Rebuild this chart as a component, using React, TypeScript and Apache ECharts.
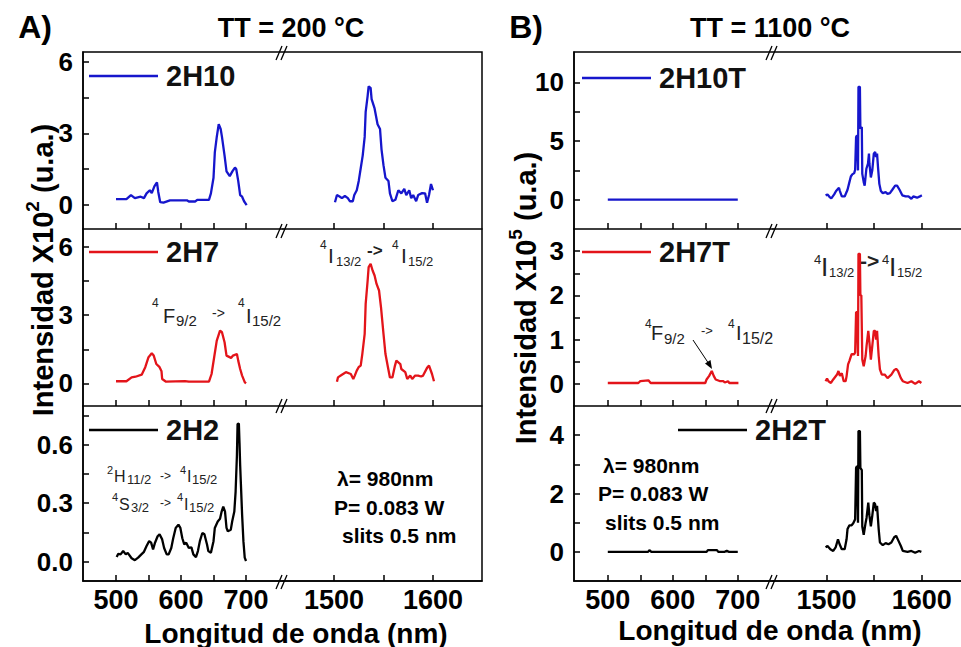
import React, { useEffect, useRef } from "react";
import * as echarts from "echarts";

type Pt = [number, number];

// ---------------- data: [wavelength (nm), intensity] ----------------
// Column A (TT = 200 °C), intensity x10^2
const A_2H10_VIS: Pt[] = [
  [500, 0.25], [516, 0.25], [523, 0.42], [529, 0.29], [538, 0.35], [543, 0.29], [547, 0.49], [552, 0.62],
  [555, 0.5], [559, 0.78], [563, 0.95], [565, 0.55], [568, 0.12], [573, 0.1], [583, 0.2], [609, 0.2],
  [612, 0.15], [622, 0.15], [625, 0.22], [643, 0.22], [646, 0.49], [650, 1.14], [652, 2.2], [655, 2.85],
  [658, 3.38], [661, 3.18], [663, 2.85], [667, 2.07], [670, 1.41], [675, 1.21], [679, 1.41], [683, 1.57],
  [685, 1.5], [688, 1.01], [691, 0.42], [694, 0.35], [697, 0.16], [701, 0],
];
const A_2H10_IR: Pt[] = [
  [1501, 0.12], [1503, 0.42], [1506, 0.35], [1508, 0.29], [1511, 0.38], [1514, 0.29], [1516, 0.16],
  [1519, 0.16], [1520.5, 0.42], [1523, 0.62], [1525, 1.01], [1527, 1.54], [1529, 2.07], [1531, 2.85],
  [1532, 3.9], [1534, 4.57], [1535, 4.96], [1537, 4.9], [1538, 4.43], [1541, 4.04], [1544, 3.38],
  [1546.5, 3.18], [1548, 2.33], [1550, 1.67], [1552, 1.14], [1555, 1.01], [1556.5, 0.49], [1559, 0.16],
  [1562, 0.22], [1565, 0.62], [1568, 0.49], [1571, 0.68], [1573, 0.42], [1576, 0.62], [1578, 0.29],
  [1580, 0.42], [1583, 0.16], [1585, 0.42], [1589, 0.5], [1592, 0.49], [1594, 0.1], [1596, 0.42],
  [1598, 0.88], [1600, 0.62],
];
const A_2H7_VIS: Pt[] = [
  [500, 0.09], [516, 0.09], [524, 0.26], [530, 0.29], [539.5, 0.38], [545, 0.71], [550, 1.15], [555, 1.32],
  [558, 1.22], [562, 0.85], [567, 0.71], [570, 0.53], [571, 0.19], [577, 0.07], [606, 0.1], [612, 0.07],
  [643, 0.07], [647, 0.41], [651, 1.15], [655, 1.88], [660, 2.32], [663, 2.25], [667, 1.81], [670, 1.22],
  [677, 1.12], [680, 1.22], [686, 1.29], [688, 1.0], [691, 0.63], [694, 0.34], [698, 0.05], [700, 0],
];
const A_2H7_IR: Pt[] = [
  [1503, 0.07], [1504, 0.26], [1508, 0.38], [1512, 0.49], [1517, 0.41], [1519.5, 0.19], [1521, 0.34],
  [1523, 0.56], [1525, 0.72], [1527, 0.78], [1528.6, 1.29], [1531, 2.18], [1532, 3.5], [1534, 4.53],
  [1535, 5.12], [1537, 5.26], [1539, 4.97], [1541, 4.75], [1543, 4.38], [1545.5, 4.09], [1547.5, 3.35],
  [1550, 2.18], [1552, 1.29], [1554.5, 0.71], [1556.5, 0.26], [1559, 0.26], [1561.6, 0.78], [1563, 1.0],
  [1567, 0.85], [1568, 0.63], [1572, 0.49], [1574, 0.19], [1577, 0.34], [1579, 0.19], [1582, 0.34],
  [1585, 0.34], [1588, 0.3], [1590, 0.34], [1594, 0.68], [1596, 0.78], [1599, 0.41], [1601, 0.09],
];
const A_2H2_VIS: Pt[] = [
  [501, 0.023], [503.5, 0.04], [507, 0.037], [511, 0.054], [515, 0.037], [518, 0.045], [524, 0.017],
  [529, 0.007], [534, 0.02], [539, 0.037], [543, 0.05], [547, 0.08], [551, 0.105], [554, 0.097],
  [557, 0.063], [560, 0.097], [564, 0.13], [567, 0.14], [571, 0.114], [574, 0.07], [578, 0.037],
  [581, 0.037], [585, 0.07], [588, 0.12], [591.8, 0.173], [596, 0.19], [599, 0.173], [602, 0.12],
  [605, 0.088], [608, 0.097], [612, 0.07], [616, 0.073], [619, 0.037], [623, 0.023], [626, 0.054],
  [629, 0.105], [632.8, 0.147], [636, 0.14], [640, 0.088], [642, 0.054], [646, 0.045], [650, 0.105],
  [652, 0.173], [656.5, 0.206], [660, 0.22], [662.5, 0.257], [665, 0.283], [667.7, 0.257], [670, 0.173],
  [672, 0.156], [676.6, 0.164], [678.7, 0.206], [682, 0.257], [684, 0.36], [686, 0.545], [687, 0.707],
  [689, 0.71], [690, 0.61], [691, 0.495], [692, 0.41], [694, 0.24], [696, 0.105], [698, 0.02], [700, 0.003],
];
const A_2H2_IR: Pt[] = [];

// Column B (TT = 1100 °C), intensity x10^5
const B_2H10T_VIS: Pt[] = [[500, 0], [600, 0], [700, 0]];
const B_2H10T_IR: Pt[] = [
  [1499, 0.37], [1501, 0.45], [1503, 0.25], [1505, 0.11], [1508, 0.45], [1510, 0.74], [1513, 1.02],
  [1514, 0.74], [1516, 0.28], [1519, 0.28], [1521, 0.65], [1522, 0.85], [1524, 1.5], [1525.5, 1.98],
  [1527, 2.16], [1529, 2.27], [1530, 2.56], [1531, 5.35], [1532, 5.5], [1533, 2.5], [1533.5, 9.63],
  [1535, 9.63], [1535.5, 6.06], [1537, 6.2], [1537.5, 2.2], [1539, 1.5], [1540, 1.2], [1541.8, 2.64],
  [1543.5, 3.07], [1544.5, 3.93], [1545, 3.07], [1546.5, 1.9], [1548, 2.5], [1549.6, 3.93], [1551, 4.07],
  [1552, 3.65], [1553, 3.93], [1554, 2.78], [1555.4, 1.35], [1557, 0.74], [1559, 0.56], [1562, 0.65],
  [1564, 0.5], [1566.5, 0.56], [1569, 0.85], [1572, 1.2], [1574, 1.2], [1576.6, 0.85], [1579.5, 0.37],
  [1583, 0.28], [1586, 0.28], [1589, 0.08], [1591, 0.28], [1595, 0.17], [1598, 0.28], [1600, 0.37],
];
const B_2H7T_VIS: Pt[] = [
  [500, 0.02], [547, 0.02], [550, 0.06], [562.5, 0.08], [566, 0.02], [650, 0.02], [652, 0.1], [656, 0.18],
  [660, 0.29], [663, 0.18], [666, 0.1], [673, 0.06], [678, 0.06], [680, 0.03], [685, 0.06], [687, 0.02],
  [701, 0.02],
];
const B_2H7T_IR: Pt[] = [
  [1499, 0.06], [1500.5, 0.12], [1502, 0.06], [1504.6, 0.02], [1507, 0.1], [1511, 0.21], [1512.5, 0.29],
  [1514, 0.18], [1516, 0.24], [1518, 0.06], [1520, 0.06], [1521, 0.17], [1522.6, 0.44], [1524, 0.52],
  [1526.3, 0.67], [1529, 0.67], [1530, 0.71], [1531, 1.62], [1532, 1.62], [1533, 0.63], [1533.5, 2.94],
  [1535, 2.94], [1535.5, 2.0], [1536.5, 2.0], [1537.5, 0.55], [1539, 0.4], [1541, 0.63], [1542, 0.86],
  [1543.8, 1.2], [1545, 0.94], [1546.5, 0.55], [1548, 0.86], [1549.6, 1.2], [1551, 1.2], [1552, 1.0],
  [1553, 1.2], [1554.7, 0.63], [1556, 0.33], [1558, 0.21], [1561, 0.21], [1564, 0.13], [1568, 0.21],
  [1571, 0.31], [1573, 0.34], [1575, 0.29], [1578, 0.13], [1580, 0.06], [1585, 0.02], [1589, 0.06],
  [1593, 0.0], [1597, 0.06], [1599.5, 0.02],
];
const B_2H2T_VIS: Pt[] = [
  [500, 0], [562, 0], [564, 0.06], [567, 0], [652, 0], [654, 0.06], [668, 0.06], [670, 0], [680, 0],
  [683, 0.04], [686, 0], [700, 0],
];
const B_2H2T_IR: Pt[] = [
  [1499, 0.15], [1501, 0.2], [1504, 0.09], [1507, 0.03], [1509.5, 0.15], [1512, 0.43], [1513.7, 0.26],
  [1516, 0.09], [1519, 0.09], [1521, 0.43], [1522, 0.78], [1524, 0.91], [1526.3, 0.91], [1528, 0.98],
  [1530, 1.12], [1531, 2.88], [1532, 2.94], [1533, 1.0], [1533.5, 4.14], [1535, 4.14], [1535.5, 2.88],
  [1537, 2.8], [1537.5, 0.87], [1539, 0.58], [1541, 1.0], [1542, 1.17], [1543.8, 1.69], [1545, 1.24],
  [1546.5, 0.87], [1548, 1.24], [1549.6, 1.69], [1551, 1.63], [1552, 1.4], [1553, 1.58], [1554.7, 0.78],
  [1556, 0.32], [1559, 0.23], [1562, 0.3], [1565, 0.26], [1568, 0.32], [1571, 0.5], [1573, 0.55],
  [1575, 0.41], [1578, 0.2], [1580, 0.03], [1585, 0.0], [1589, 0.03], [1593, -0.03], [1597, 0.03],
  [1599.5, 0.0],
];

// ---------------- tick values ----------------
const X_VIS_LABELS = [500, 600, 700];
const X_VIS_TICKS = [500, 550, 600, 650, 700];
const X_IR_LABELS = [1500, 1600];
const X_IR_TICKS = [1500, 1550, 1600];

const A_TOP_Y_LABELS = [0, 3, 6];
const A_TOP_Y_TICKS = [0, 1.5, 3, 4.5, 6];
const A_MID_Y_LABELS = [0, 3, 6];
const A_MID_Y_TICKS = [0, 1.5, 3, 4.5, 6];
const A_BOT_Y_LABELS = [0, 0.3, 0.6];
const A_BOT_Y_TICKS = [0, 0.15, 0.3, 0.45, 0.6, 0.75];
const B_TOP_Y_LABELS = [0, 5, 10];
const B_TOP_Y_TICKS = [0, 2.5, 5, 7.5, 10];
const B_MID_Y_LABELS = [0, 1, 2, 3];
const B_MID_Y_TICKS = [0, 0.5, 1, 1.5, 2, 2.5, 3];
const B_BOT_Y_LABELS = [0, 2, 4];
const B_BOT_Y_TICKS = [0, 1, 2, 3, 4];

// ---------------- styling / layout ----------------
const FONT = '"Liberation Sans", Arial, Helvetica, sans-serif';
const BLUE = "#1616cc";
const RED = "#e3141a";
const BLACK = "#000000";

const COLS = {
  A: { left: 83, brk: 283, right: 482, visMin: 449.2, visMax: 756.9, irMin: 1448.5, irMax: 1649.5 },
  B: { left: 574, brk: 773, right: 965, visMin: 448, visMax: 754.2, irMin: 1443.8, irMax: 1641.1 },
};
const ROWS = [
  { top: 52, h: 177 },
  { top: 229, h: 177 },
  { top: 406, h: 175 },
];

type Panel = {
  name: string; col: "A" | "B"; row: number; color: string; vis: Pt[]; ir: Pt[];
  yMin: number; yMax: number; yLabels: number[]; yTicks: number[]; dec: number;
  legLeft: number; legTop: number;
};

const PANELS: Panel[] = [
  { name: "2H10", col: "A", row: 0, color: BLUE, vis: A_2H10_VIS, ir: A_2H10_IR, yMin: -1, yMax: 6.4, yLabels: A_TOP_Y_LABELS, yTicks: A_TOP_Y_TICKS, dec: 0, legLeft: 89, legTop: 61 },
  { name: "2H7", col: "A", row: 1, color: RED, vis: A_2H7_VIS, ir: A_2H7_IR, yMin: -1, yMax: 6.8, yLabels: A_MID_Y_LABELS, yTicks: A_MID_Y_TICKS, dec: 0, legLeft: 89, legTop: 237 },
  { name: "2H2", col: "A", row: 2, color: BLACK, vis: A_2H2_VIS, ir: A_2H2_IR, yMin: -0.1, yMax: 0.8, yLabels: A_BOT_Y_LABELS, yTicks: A_BOT_Y_TICKS, dec: 1, legLeft: 89, legTop: 415 },
  { name: "2H10T", col: "B", row: 0, color: BLUE, vis: B_2H10T_VIS, ir: B_2H10T_IR, yMin: -2.5, yMax: 12.6, yLabels: B_TOP_Y_LABELS, yTicks: B_TOP_Y_TICKS, dec: 0, legLeft: 582, legTop: 63 },
  { name: "2H7T", col: "B", row: 1, color: RED, vis: B_2H7T_VIS, ir: B_2H7T_IR, yMin: -0.5, yMax: 3.5, yLabels: B_MID_Y_LABELS, yTicks: B_MID_Y_TICKS, dec: 0, legLeft: 582, legTop: 237 },
  { name: "2H2T", col: "B", row: 2, color: BLACK, vis: B_2H2T_VIS, ir: B_2H2T_IR, yMin: -1, yMax: 5, yLabels: B_BOT_Y_LABELS, yTicks: B_BOT_Y_TICKS, dec: 0, legLeft: 678, legTop: 415 },
];

// annotation pieces: [text, left x, center y, font size, bold]
type Piece = [string, number, number, number, boolean?];
const ANNOT: Piece[] = [
  // A middle: 4F9/2 -> 4I15/2
  ["4", 152, 303, 12], ["F", 163, 316, 20], ["9/2", 176, 320, 15], ["->", 212, 313, 14],
  ["4", 238, 303, 12], ["I", 246, 316, 20], ["15/2", 252, 320, 15],
  // A middle: 4I13/2 -> 4I15/2
  ["4", 320, 245, 12], ["I", 328, 255, 21], ["13/2", 336, 261, 13], ["->", 367, 250, 17, true],
  ["4", 392, 245, 12], ["I", 401, 255, 21], ["15/2", 408, 261, 13],
  // A bottom
  ["2", 107, 470, 11], ["H", 114, 476, 16], ["11/2", 127, 479, 13], ["->", 160, 476, 12],
  ["4", 180, 470, 11], ["I", 187, 476, 16], ["15/2", 192, 479, 13],
  ["4", 112, 497, 11], ["S", 119, 504, 16], ["3/2", 131, 507, 13], ["->", 160, 503, 12],
  ["4", 177, 497, 11], ["I", 184, 504, 16], ["15/2", 189, 507, 13],
  // B middle: 4F9/2 -> 4I15/2
  ["4", 645, 324, 12], ["F", 651, 333, 20], ["9/2", 664, 338, 15], ["->", 701, 330, 13],
  ["4", 728, 324, 12], ["I", 736, 333, 20], ["15/2", 742, 338, 16],
  // B middle: 4I13/2 -> 4I15/2
  ["4", 814, 259, 13], ["I", 821, 267, 26], ["13/2", 829, 272, 13], ["->", 860, 260, 21, true],
  ["4", 882, 259, 13], ["I", 889, 267, 26], ["15/2", 897, 272, 13],
];

function txt(text: string, x: number, y: number, size: number, bold: boolean, align = "left", color = "#000") {
  return {
    type: "text", x, y, silent: true, z: 20,
    style: { text, fontSize: size, fontFamily: FONT, fontWeight: bold ? "bold" : "normal", fill: color, align, verticalAlign: "middle" },
  };
}

function brk(cx: number, cy: number) {
  const st = { stroke: "#000", lineWidth: 1.3 };
  return [
    { type: "line", silent: true, z: 20, shape: { x1: cx - 7, y1: cy + 7, x2: cx - 1, y2: cy - 7 }, style: st },
    { type: "line", silent: true, z: 20, shape: { x1: cx - 2, y1: cy + 7, x2: cx + 4, y2: cy - 7 }, style: st },
  ];
}

function buildOption() {
  const grid: any[] = [];
  const xAxis: any[] = [];
  const yAxis: any[] = [];
  const series: any[] = [];
  const legend: any[] = [];
  const axisLineStyle = { color: "#000", width: 1.5 };

  PANELS.forEach((p, i) => {
    const c = COLS[p.col];
    const r = ROWS[p.row];
    const gv = 2 * i;
    const gi = 2 * i + 1;
    const bottom = p.row === 2;
    grid.push({ left: c.left, top: r.top, width: c.brk - c.left, height: r.h });
    grid.push({ left: c.brk, top: r.top, width: c.right - c.brk, height: r.h });
    const xLabel = (vals: number[]) => ({
      show: bottom, customValues: vals, fontSize: 27, fontWeight: "bold", fontFamily: FONT, color: "#000", margin: 5,
      formatter: (v: number) => String(v),
    });
    xAxis.push({
      gridIndex: gv, type: "value", min: c.visMin, max: c.visMax,
      axisLine: { show: true, onZero: false, lineStyle: axisLineStyle },
      axisTick: { show: true, inside: true, length: 6, customValues: X_VIS_TICKS, lineStyle: axisLineStyle },
      axisLabel: xLabel(X_VIS_LABELS), splitLine: { show: false },
    });
    xAxis.push({
      gridIndex: gi, type: "value", min: c.irMin, max: c.irMax,
      axisLine: { show: true, onZero: false, lineStyle: axisLineStyle },
      axisTick: { show: true, inside: true, length: 6, customValues: X_IR_TICKS, lineStyle: axisLineStyle },
      axisLabel: xLabel(X_IR_LABELS), splitLine: { show: false },
    });
    yAxis.push({
      gridIndex: gv, type: "value", min: p.yMin, max: p.yMax,
      axisLine: { show: true, onZero: false, lineStyle: axisLineStyle },
      axisTick: { show: true, inside: true, length: 6, customValues: p.yTicks, lineStyle: axisLineStyle },
      axisLabel: {
        customValues: p.yLabels, fontSize: 26, fontWeight: "bold", fontFamily: FONT, color: "#000", margin: 10,
        formatter: (v: number) => v.toFixed(p.dec),
      },
      splitLine: { show: false },
    });
    yAxis.push({ gridIndex: gi, type: "value", min: p.yMin, max: p.yMax, show: false });
    const common = {
      type: "line", name: p.name, symbol: "none", showSymbol: false, color: p.color,
      lineStyle: { width: 2.3, color: p.color }, itemStyle: { color: p.color }, clip: true, silent: true,
    };
    series.push({ ...common, xAxisIndex: gv, yAxisIndex: gv, data: p.vis });
    if (p.ir.length) series.push({ ...common, xAxisIndex: gi, yAxisIndex: gi, data: p.ir });
    legend.push({
      data: [{ name: p.name, icon: "rect" }], left: p.legLeft, top: p.legTop, padding: 0, itemWidth: 69, itemHeight: 2.5,
      selectedMode: false, itemGap: 0, itemStyle: { color: p.color, borderWidth: 0 },
      textStyle: { fontSize: 29, fontWeight: "bold", fontFamily: FONT, color: "#111", lineHeight: 30, padding: [0, 0, 0, 3] },
    });
  });

  const graphic: any[] = [];
  // frames
  graphic.push({ type: "rect", silent: true, z: 15, shape: { x: 83, y: 52, width: 399, height: 529 }, style: { fill: "none", stroke: "#000", lineWidth: 1.5 } });
  graphic.push({ type: "rect", silent: true, z: 15, shape: { x: 574, y: 52, width: 391, height: 529 }, style: { fill: "none", stroke: "#000", lineWidth: 1.5 } });
  // axis breaks
  [283, 773].forEach((cx) => [53, 231, 406, 582].forEach((cy) => graphic.push(...brk(cx, cy))));
  // headings
  graphic.push(txt("A)", 35, 27, 32, true, "center"));
  graphic.push(txt("B)", 526, 27, 32, true, "center"));
  graphic.push(txt("TT = 200 °C", 291, 28, 27, true, "center"));
  graphic.push(txt("TT = 1100 °C", 770, 28, 27, true, "center"));
  graphic.push(txt("Longitud de onda (nm)", 296, 633, 28, true, "center"));
  graphic.push(txt("Longitud de onda (nm)", 770, 630, 28, true, "center"));
  // y titles
  const yTitle = (x: number, y: number, exp: string) => ({
    type: "text", x, y, rotation: Math.PI / 2, silent: true, z: 20,
    style: {
      text: `{m|Intensidad X10}{s|${exp}}{m| (u.a.)}`,
      align: "center", verticalAlign: "middle",
      rich: {
        m: { fontSize: 29, fontWeight: "bold", fontFamily: FONT, fill: "#000", lineHeight: 34, verticalAlign: "bottom" },
        s: { fontSize: 19, fontWeight: "bold", fontFamily: FONT, fill: "#000", lineHeight: 34, verticalAlign: "top" },
      },
    },
  });
  graphic.push(yTitle(40, 270, "2"));
  graphic.push(yTitle(523, 298, "5"));
  // excitation info
  graphic.push(txt("λ= 980nm", 337, 478, 21, true));
  graphic.push(txt("P= 0.083 W", 334, 507, 21, true));
  graphic.push(txt("slits 0.5 nm", 342, 535, 21, true));
  graphic.push(txt("λ= 980nm", 603, 465, 21, true));
  graphic.push(txt("P= 0.083 W", 598, 493, 21, true));
  graphic.push(txt("slits 0.5 nm", 605, 522, 21, true));
  // transition annotations
  ANNOT.forEach(([t, x, y, s, b]) => graphic.push(txt(t, x, y, s, !!b, "left", "#222")));
  // arrow in B middle panel
  graphic.push({ type: "line", silent: true, z: 20, shape: { x1: 693, y1: 340, x2: 709, y2: 364 }, style: { stroke: "#000", lineWidth: 1 } });
  graphic.push({ type: "polygon", silent: true, z: 20, shape: { points: [[712, 369], [705, 363.5], [710.5, 360]] }, style: { fill: "#000" } });

  return {
    animation: false,
    backgroundColor: "#fff",
    textStyle: { fontFamily: FONT },
    grid, xAxis, yAxis, series, legend, graphic,
  };
}

export default function App() {
  const ref = useRef<HTMLDivElement>(null);
  useEffect(() => {
    const chart = echarts.init(ref.current!, null, { renderer: "svg" });
    chart.setOption(buildOption() as any);
    return () => chart.dispose();
  }, []);
  return (
    <div
      ref={ref}
      style={{ position: "fixed", left: 0, top: 0, width: 961, height: 647, background: "#fff" }}
    />
  );
}
